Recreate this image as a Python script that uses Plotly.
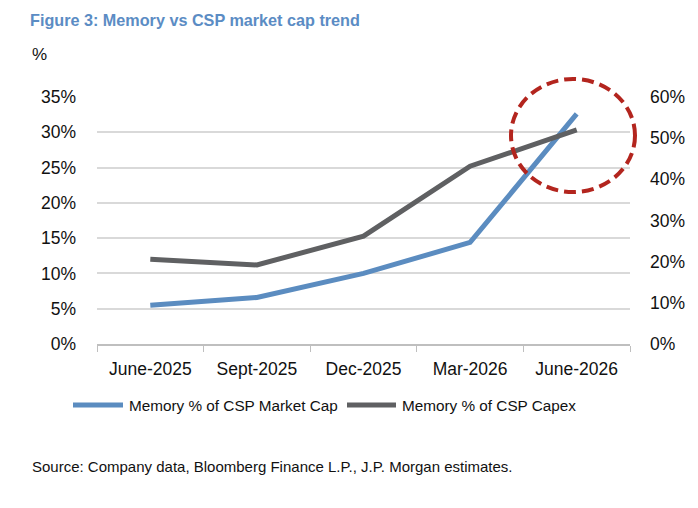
import plotly.graph_objects as go

categories = ["June-2025", "Sept-2025", "Dec-2025", "Mar-2026", "June-2026"]
market_cap_pct = [5.5, 6.6, 10.0, 14.4, 32.6]   # left axis
capex_pct = [20.6, 19.2, 26.2, 43.2, 52.0]      # right axis
left_ticks = [0, 5, 10, 15, 20, 25, 30, 35]
right_ticks = [0, 10, 20, 30, 40, 50, 60]

BLUE = "#5b8cc0"
GRAY = "#5f6062"
RED = "#b3251e"
FONT = "Liberation Sans, Arial, sans-serif"

W, H = 698, 508
L, R, T, B = 97, 68, 97, 164
pw, ph = W - L - R, H - T - B

def px(x):
    return (x - L) / pw

def py(y):
    return (H - B - y) / ph

fig = go.Figure()
fig.add_trace(go.Scatter(x=categories, y=market_cap_pct, mode="lines", name="Memory % of CSP Market Cap",
                         line=dict(color=BLUE, width=5), yaxis="y", showlegend=False))
fig.add_trace(go.Scatter(x=categories, y=capex_pct, mode="lines", name="Memory % of CSP Capex",
                         line=dict(color=GRAY, width=5), yaxis="y2", showlegend=False))

fig.update_layout(
    width=W, height=H,
    margin=dict(l=L, r=R, t=T, b=B),
    paper_bgcolor="white", plot_bgcolor="white",
    font=dict(family=FONT, size=18, color="#111111"),
    title=dict(text="<b>Figure 3: Memory vs CSP market cap trend</b>", xref="container", yref="container",
               x=30 / W, xanchor="left", y=1 - 20 / H, yanchor="middle",
               font=dict(family=FONT, size=16.2, color="#5b8cc4")),
    xaxis=dict(type="category", range=[-0.5, 4.5], showgrid=False, showline=True, linecolor="#bfbfbf",
               linewidth=1.5, ticks="outside", tickson="boundaries", ticklen=6, tickcolor="#bfbfbf",
               tickfont=dict(size=17.5), ticklabelstandoff=8),
    yaxis=dict(range=[0, 35], tickvals=left_ticks, ticktext=[f"{v}%" for v in left_ticks],
               showgrid=True, gridcolor="#d9d9d9", gridwidth=1.5, zeroline=False, showline=False,
               ticks="", ticklabelstandoff=20, tickfont=dict(size=17.5)),
    yaxis2=dict(range=[0, 60], tickvals=right_ticks, ticktext=[f"{v}%" for v in right_ticks],
                overlaying="y", side="right", showgrid=False, zeroline=False, showline=False,
                ticks="", ticklabelstandoff=19, tickfont=dict(size=17.5)),
)

# Highlight circle
fig.add_shape(type="circle", xref="paper", yref="paper",
              x0=px(511), x1=px(635), y0=py(192), y1=py(79),
              line=dict(color=RED, width=4, dash="12px,6px"))

# Legend (manual, to match long line samples)
legend_y = py(405)
items = [("Memory % of CSP Market Cap", BLUE, 73, 123, 127),
         ("Memory % of CSP Capex", GRAY, 347, 396, 400)]
for name, col, x0, x1, xt in items:
    fig.add_shape(type="line", xref="paper", yref="paper", x0=px(x0), x1=px(x1), y0=legend_y, y1=legend_y,
                  line=dict(color=col, width=5))
    fig.add_annotation(text=name, xref="paper", yref="paper", x=px(xt), y=legend_y,
                       xanchor="left", yanchor="middle", showarrow=False, font=dict(size=15.3))

fig.add_annotation(text="%", xref="paper", yref="paper", x=px(30), y=py(55), xanchor="left",
                   yanchor="middle", showarrow=False, font=dict(size=17))
fig.add_annotation(text="Source: Company data, Bloomberg Finance L.P., J.P. Morgan estimates.",
                   xref="paper", yref="paper", x=px(30), y=py(466), xanchor="left", yanchor="middle",
                   showarrow=False, font=dict(size=15))

fig.write_html("out.html")
